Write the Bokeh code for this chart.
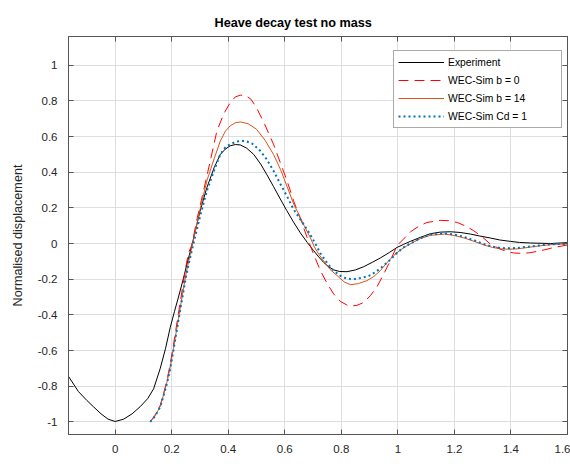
from bokeh.plotting import figure
from bokeh.models import (Range1d, LinearAxis, FixedTicker, Legend, LegendItem, Title, Label)
from bokeh.embed import file_html
from bokeh.resources import INLINE

# ---------------- data ----------------
t_exp = [-0.165, -0.13, -0.10, -0.077, -0.05, -0.025, 0.0, 0.03, 0.06, 0.0885, 0.115, 0.136,
         0.159, 0.178, 0.195, 0.21, 0.224, 0.24, 0.254, 0.273, 0.30, 0.3245, 0.35, 0.372, 0.39,
         0.407, 0.425, 0.4425, 0.465, 0.49, 0.515, 0.537, 0.56, 0.584, 0.607, 0.631, 0.655,
         0.68, 0.702, 0.72, 0.737, 0.755, 0.773, 0.795, 0.82, 0.85, 0.879, 0.91, 0.938, 0.97,
         0.997, 1.02, 1.044, 1.08, 1.115, 1.15, 1.186, 1.22, 1.257, 1.29, 1.327, 1.36, 1.398,
         1.43, 1.469, 1.54, 1.6]
y_exp = [-0.745, -0.83, -0.88, -0.915, -0.955, -0.985, -0.998, -0.985, -0.955, -0.915, -0.87,
         -0.815, -0.703, -0.59, -0.47, -0.38, -0.30, -0.205, -0.115, 0.0, 0.18, 0.314, 0.425,
         0.50, 0.53, 0.548, 0.555, 0.553, 0.535, 0.50, 0.445, 0.385, 0.32, 0.25, 0.185, 0.12,
         0.06, 0.005, -0.04, -0.075, -0.105, -0.13, -0.148, -0.157, -0.158, -0.148, -0.13,
         -0.105, -0.081, -0.05, -0.022, -0.005, 0.012, 0.035, 0.055, 0.064, 0.066, 0.062,
         0.053, 0.042, 0.031, 0.02, 0.012, 0.006, 0.003, 0.0, 0.005]

t_b0 = [0.124, 0.14, 0.159, 0.17, 0.183, 0.195, 0.206, 0.215, 0.224, 0.233, 0.242, 0.25, 0.26,
        0.271, 0.29, 0.3127, 0.336, 0.36, 0.385, 0.407, 0.425, 0.4425, 0.46, 0.48, 0.50, 0.53,
        0.56, 0.585, 0.608, 0.631, 0.655, 0.679, 0.702, 0.726, 0.75, 0.773, 0.797, 0.82, 0.838,
        0.855, 0.88, 0.903, 0.927, 0.95, 0.975, 0.997, 1.02, 1.044, 1.075, 1.103, 1.15, 1.18,
        1.21, 1.24, 1.268, 1.3, 1.327, 1.36, 1.387, 1.41, 1.434, 1.465, 1.493, 1.52, 1.552,
        1.58, 1.6]
y_b0 = [-1.0, -0.965, -0.91, -0.85, -0.77, -0.675, -0.57, -0.48, -0.39, -0.30, -0.21, -0.13,
        -0.05, -0.01, 0.14, 0.296, 0.46, 0.632, 0.73, 0.79, 0.822, 0.832, 0.83, 0.81, 0.762,
        0.665, 0.557, 0.45, 0.352, 0.24, 0.14, 0.034, -0.06, -0.152, -0.225, -0.283, -0.325,
        -0.345, -0.35, -0.347, -0.33, -0.292, -0.24, -0.171, -0.09, -0.012, 0.025, 0.065,
        0.098, 0.118, 0.13, 0.128, 0.118, 0.098, 0.072, 0.035, -0.003, -0.03, -0.046, -0.053,
        -0.055, -0.052, -0.044, -0.035, -0.022, -0.014, -0.008]

t_b14 = [0.124, 0.14, 0.159, 0.17, 0.183, 0.195, 0.206, 0.215, 0.224, 0.233, 0.242, 0.25, 0.26,
         0.277, 0.30, 0.3245, 0.35, 0.372, 0.39, 0.407, 0.425, 0.4425, 0.47, 0.50, 0.53, 0.56,
         0.585, 0.608, 0.632, 0.655, 0.67, 0.69, 0.705, 0.72, 0.737, 0.76, 0.785, 0.81, 0.832,
         0.86, 0.891, 0.915, 0.938, 0.96, 0.985, 1.01, 1.033, 1.06, 1.08, 1.115, 1.165, 1.2,
         1.233, 1.27, 1.304, 1.335, 1.363, 1.392, 1.422, 1.46, 1.493, 1.53, 1.564, 1.6]
y_b14 = [-1.0, -0.97, -0.915, -0.855, -0.78, -0.69, -0.59, -0.505, -0.42, -0.335, -0.25, -0.175,
         -0.10, 0.02, 0.19, 0.352, 0.475, 0.575, 0.63, 0.66, 0.677, 0.682, 0.672, 0.641, 0.58,
         0.50, 0.415, 0.32, 0.22, 0.146, 0.095, 0.034, -0.02, -0.06, -0.096, -0.145, -0.18,
         -0.215, -0.231, -0.225, -0.208, -0.185, -0.152, -0.11, -0.068, -0.035, -0.012, 0.012,
         0.028, 0.046, 0.053, 0.045, 0.032, 0.012, -0.008, -0.022, -0.03, -0.032, -0.03,
         -0.022, -0.015, -0.008, -0.004, -0.002]

t_cd1 = [0.124, 0.14, 0.159, 0.17, 0.183, 0.195, 0.206, 0.215, 0.224, 0.233, 0.242, 0.25, 0.26,
         0.277, 0.30, 0.3245, 0.35, 0.372, 0.39, 0.407, 0.43, 0.46, 0.485, 0.513, 0.537, 0.56,
         0.584, 0.608, 0.63, 0.655, 0.67, 0.69, 0.708, 0.726, 0.75, 0.773, 0.80, 0.82, 0.844,
         0.875, 0.903, 0.925, 0.95, 0.975, 0.997, 1.02, 1.044, 1.08, 1.115, 1.162, 1.2, 1.233,
         1.27, 1.304, 1.335, 1.363, 1.392, 1.422, 1.46, 1.493, 1.53, 1.564, 1.6]
y_cd1 = [-1.0, -0.97, -0.918, -0.86, -0.787, -0.70, -0.60, -0.515, -0.43, -0.345, -0.264, -0.19,
         -0.115, 0.0, 0.15, 0.296, 0.41, 0.50, 0.54, 0.557, 0.572, 0.576, 0.56, 0.52, 0.47,
         0.408, 0.335, 0.265, 0.195, 0.135, 0.10, 0.05, 0.0, -0.055, -0.11, -0.152, -0.185,
         -0.197, -0.2, -0.192, -0.178, -0.155, -0.124, -0.088, -0.052, -0.022, 0.0, 0.03, 0.05,
         0.057, 0.05, 0.038, 0.018, -0.003, -0.018, -0.025, -0.027, -0.025, -0.018, -0.012,
         -0.006, -0.003, -0.003]

x_ticks = [0, 0.2, 0.4, 0.6, 0.8, 1, 1.2, 1.4, 1.6]
x_tick_labels = ["0", "0.2", "0.4", "0.6", "0.8", "1", "1.2", "1.4", "1.6"]
y_ticks = [-1, -0.8, -0.6, -0.4, -0.2, 0, 0.2, 0.4, 0.6, 0.8, 1]
y_tick_labels = ["-1", "-0.8", "-0.6", "-0.4", "-0.2", "0", "0.2", "0.4", "0.6", "0.8", "1"]

series_names = ["Experiment", "WEC-Sim b = 0", "WEC-Sim b = 14", "WEC-Sim Cd = 1"]
title_text = "Heave decay test no mass"
x_label = "Time (s)"
y_label = "Normalised displacement"

# ---------------- figure ----------------
AX = "#555555"
TXT = "#262626"
FONT = "Liberation Sans"
X0, X1 = -0.165, 1.6

p = figure(width=570, height=474, output_backend="svg", toolbar_location=None,
           x_range=Range1d(X0, X1), y_range=Range1d(-1.071, 1.161),
           min_border_left=68, min_border_right=3, min_border_top=36, min_border_bottom=40)
p.background_fill_color = "white"
p.border_fill_color = "white"
p.outline_line_color = AX

p.title = Title(text=title_text, align="left", offset=146,
                text_font=FONT, text_font_size="12.65px", text_font_style="bold",
                text_color="black", standoff=14)

def style_axis(ax, ticks, labels, show_labels):
    ax.ticker = FixedTicker(ticks=ticks)
    ax.major_label_overrides = {t: l for t, l in zip(ticks, labels)}
    ax.axis_line_color = AX
    ax.major_tick_line_color = AX
    ax.major_tick_in = 5
    ax.major_tick_out = 0
    ax.minor_tick_line_color = None
    ax.major_label_text_font = FONT
    ax.major_label_text_color = TXT
    ax.major_label_text_font_size = "11.5px"
    if not show_labels:
        ax.major_label_text_color = None
        ax.major_label_text_font_size = "1px"
        ax.major_label_standoff = 0

xa = p.xaxis[0]
ya = p.yaxis[0]
style_axis(xa, x_ticks, x_tick_labels, True)
style_axis(ya, y_ticks, y_tick_labels, True)
xa.major_label_standoff = 10
ya.major_label_standoff = 11
ya.axis_label = y_label
ya.axis_label_text_font = FONT
ya.axis_label_text_font_size = "12.65px"
ya.axis_label_text_font_style = "normal"
ya.axis_label_text_color = TXT
ya.axis_label_standoff = 10

top = LinearAxis()
right = LinearAxis()
style_axis(top, x_ticks, x_tick_labels, False)
style_axis(right, y_ticks, y_tick_labels, False)
p.add_layout(top, "above")
p.add_layout(right, "right")

p.xgrid.ticker = FixedTicker(ticks=x_ticks)
p.ygrid.ticker = FixedTicker(ticks=y_ticks)
p.grid.grid_line_color = "#dedede"
p.grid.grid_line_width = 1

r_exp = p.line(t_exp, y_exp, line_color="black", line_width=1)
r_b0 = p.line(t_b0, y_b0, line_color="#FF0000", line_width=1, line_dash="10 6")
r_b14 = p.line(t_b14, y_b14, line_color="#D95319", line_width=1)
r_cd1 = p.line(t_cd1, y_cd1, line_color="#0072BD", line_width=2, line_dash="2 3")

# x-axis label placed below the tick labels (centred under the frame)
p.add_layout(Label(x=(X0 + X1) / 2, y=-33, y_units="screen", text=x_label,
                   text_font=FONT, text_font_size="12.65px", text_color=TXT,
                   text_align="center", text_baseline="middle"))

legend = Legend(items=[LegendItem(label=series_names[0], renderers=[r_exp]),
                       LegendItem(label=series_names[1], renderers=[r_b0]),
                       LegendItem(label=series_names[2], renderers=[r_b14]),
                       LegendItem(label=series_names[3], renderers=[r_cd1])],
                location=(325, 306), margin=0, padding=4, spacing=4,
                label_height=14, glyph_height=14, glyph_width=46, label_standoff=4,
                label_width=109, label_text_font=FONT, label_text_font_size="10.35px",
                label_text_color="black", border_line_color=AX, border_line_width=1,
                background_fill_color="white", background_fill_alpha=1)
p.add_layout(legend, "center")

open("out.html", "w").write(file_html(p, INLINE))
